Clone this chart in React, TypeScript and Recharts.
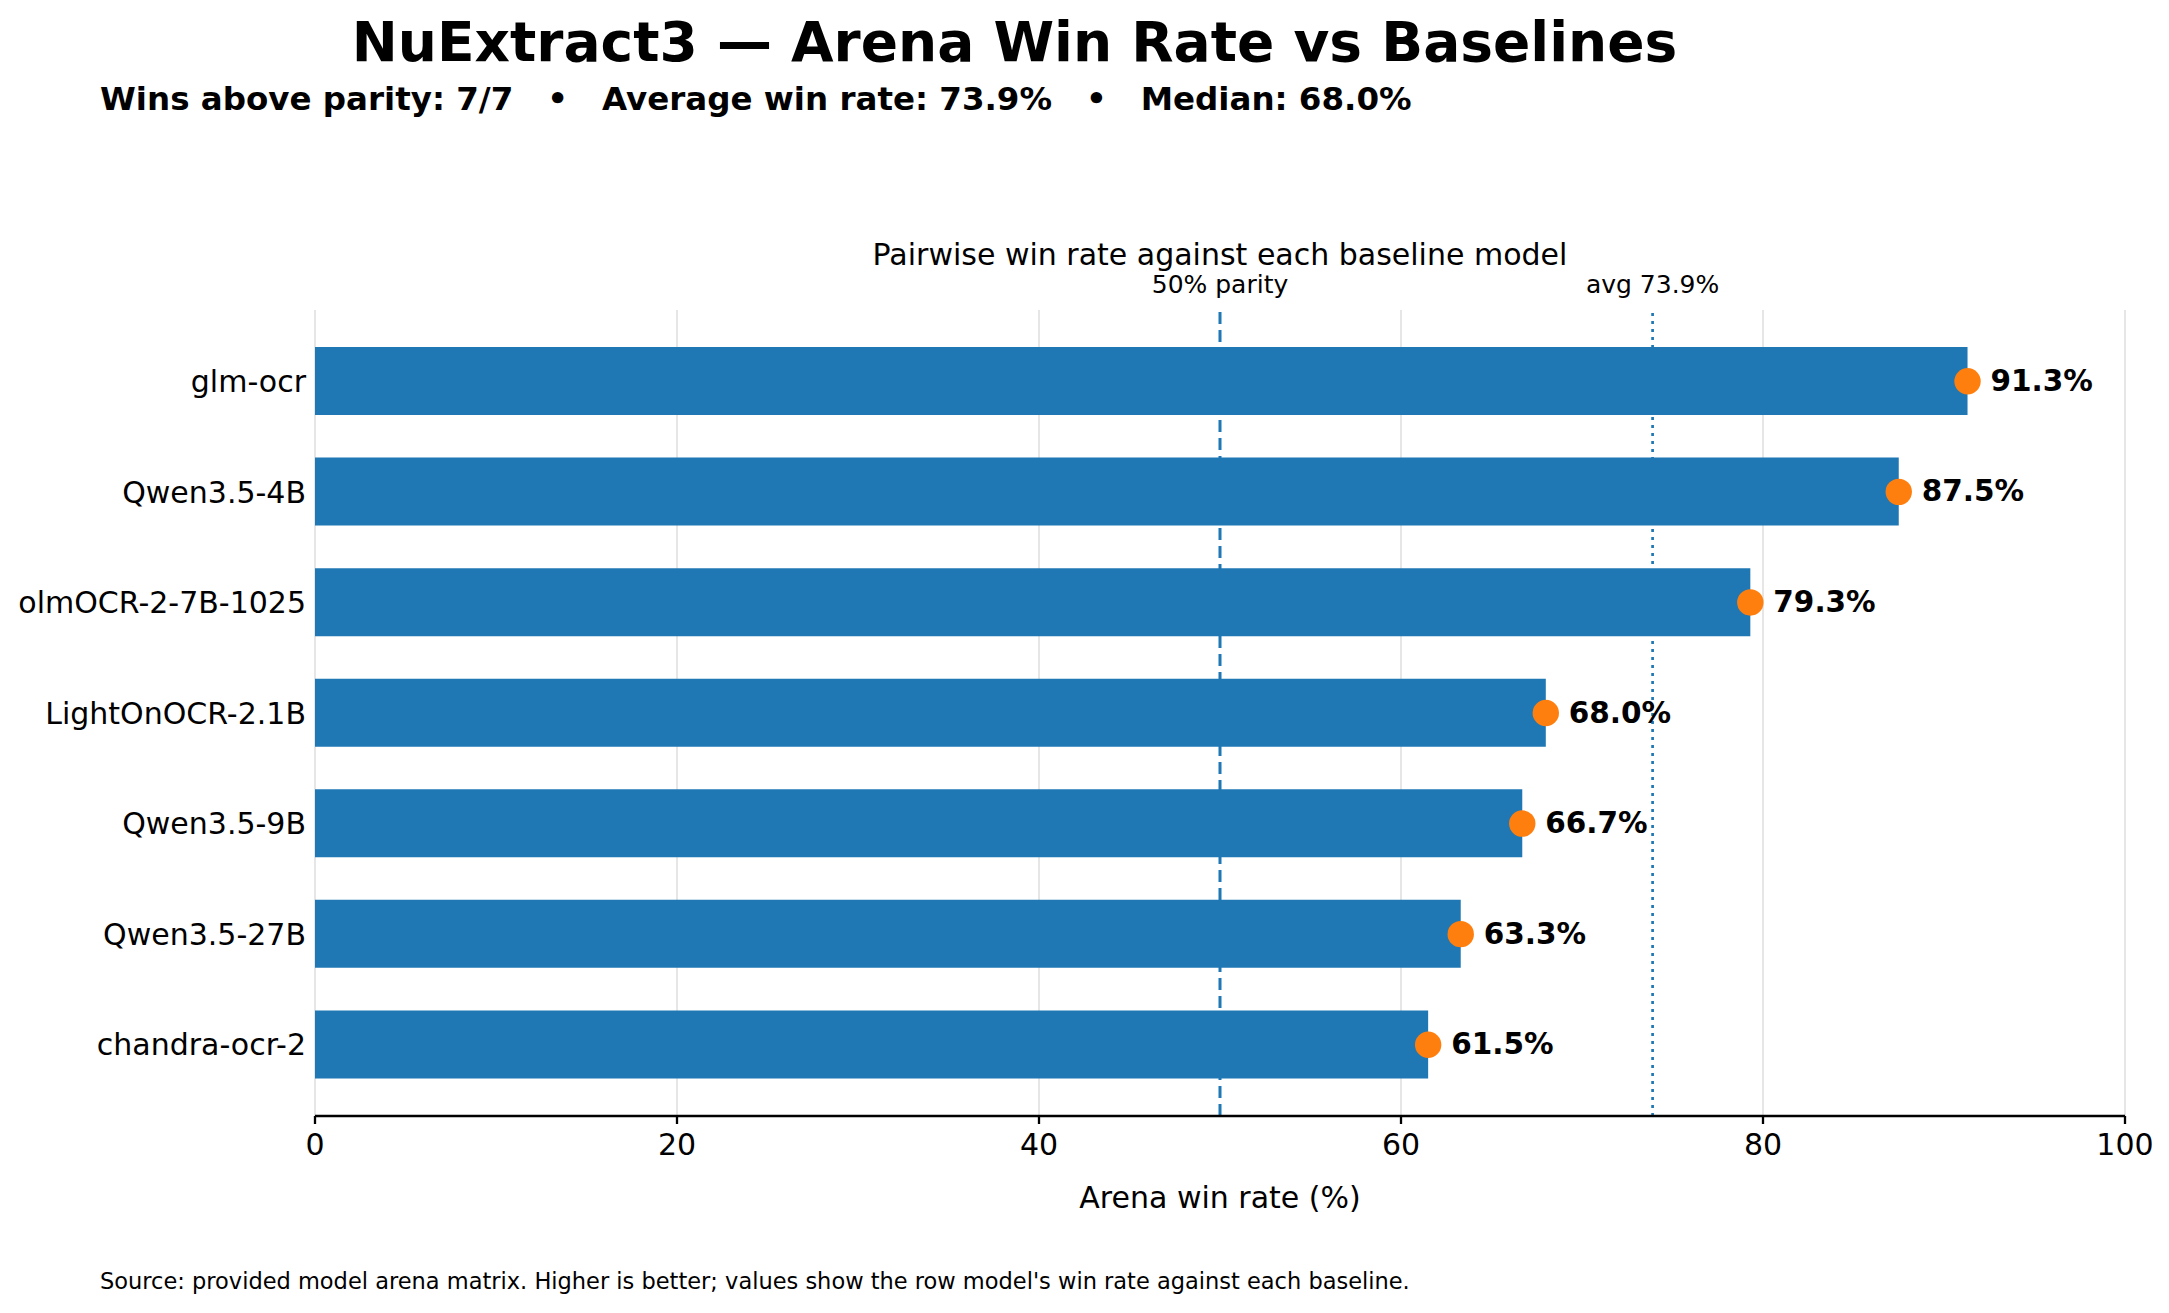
import React from 'react';
import {
  ComposedChart,
  Bar,
  Line,
  XAxis,
  YAxis,
  CartesianGrid,
  ReferenceLine,
  LabelList,
} from 'recharts';

// ---- data ----
const models = [
  'glm-ocr',
  'Qwen3.5-4B',
  'olmOCR-2-7B-1025',
  'LightOnOCR-2.1B',
  'Qwen3.5-9B',
  'Qwen3.5-27B',
  'chandra-ocr-2',
];
const winRates = [91.3, 87.5, 79.3, 68.0, 66.7, 63.3, 61.5];
const xTicks = [0, 20, 40, 60, 80, 100];
const parityRate = 50;
const averageRate = 73.9;
const medianRate = 68.0;
const winsAbove = 7;
const totalBaselines = 7;

const data = models.map((m, i) => ({ model: m, rate: winRates[i] }));

const W = 2169;
const H = 1313;
const FONT = "'DejaVu Sans', 'Liberation Sans', sans-serif";
const BLUE = '#1f77b4';
const ORANGE = '#ff7f0e';

const ValueLabel = (props: any) => {
  const vb = props.viewBox || {};
  const x = props.x ?? vb.x;
  const y = props.y ?? vb.y;
  const v = props.value;
  return (
    <text
      x={x + 23}
      y={y + 9.5}
      fontFamily={FONT}
      fontSize={29.5}
      fontWeight="bold"
      fill="#000"
    >
      {`${Number(v).toFixed(1)}%`}
    </text>
  );
};

const RefLabel = (props: any) => {
  const vb = props.viewBox || {};
  return (
    <text
      x={vb.x}
      y={vb.y - 17}
      textAnchor="middle"
      fontFamily={FONT}
      fontSize={25}
      fill="#000"
    >
      {props.text}
    </text>
  );
};

const OrangeDot = (p: any) => (
  <circle key={`dot-${p.index}`} cx={p.cx} cy={p.cy} r={13.2} fill={ORANGE} />
);

export default function App() {
  return (
    <div style={{ position: 'absolute', left: 0, top: 0, width: W, height: H, background: '#fff' }}>
      <ComposedChart
        layout="vertical"
        width={W}
        height={H}
        data={data}
        margin={{ top: 310, right: 44, left: 0, bottom: 157 }}
      >
        <CartesianGrid horizontal={false} stroke="#e6e6e6" strokeWidth={2} />
        <XAxis
          type="number"
          domain={[0, 100]}
          ticks={xTicks}
          interval={0}
          height={40}
          tickSize={8}
          tickMargin={10}
          axisLine={{ stroke: '#000', strokeWidth: 2.3 }}
          tickLine={{ stroke: '#000', strokeWidth: 2.3 }}
          tick={{ fontSize: 30, fill: '#000', fontFamily: FONT }}
        />
        <YAxis
          type="category"
          dataKey="model"
          width={315}
          interval={0}
          tickSize={0}
          tickMargin={9}
          axisLine={false}
          tickLine={false}
          padding={{ top: 16, bottom: 16 }}
          tick={{ fontSize: 30, fill: '#000', fontFamily: FONT }}
        />
        <ReferenceLine
          x={parityRate}
          stroke={BLUE}
          strokeWidth={3}
          strokeDasharray="12 6"
          zIndex={-10}
          label={<RefLabel text="50% parity" />}
        />
        <ReferenceLine
          x={averageRate}
          stroke={BLUE}
          strokeWidth={2.7}
          strokeDasharray="3 5"
          zIndex={-10}
          label={<RefLabel text={`avg ${averageRate.toFixed(1)}%`} />}
        />
        <Bar dataKey="rate" fill={BLUE} barSize={68} isAnimationActive={false} />
        <Line
          dataKey="rate"
          stroke="none"
          strokeWidth={0}
          dot={OrangeDot}
          activeDot={false}
          isAnimationActive={false}
        >
          <LabelList dataKey="rate" content={<ValueLabel />} />
        </Line>
      </ComposedChart>
      <svg
        width={W}
        height={H}
        style={{ position: 'absolute', left: 0, top: 0, pointerEvents: 'none' }}
      >
        <text x={1014.5} y={61} textAnchor="middle" fontFamily={FONT} fontSize={55} fontWeight="bold" fill="#000">
          NuExtract3 — Arena Win Rate vs Baselines
        </text>
        <text x={100} y={110} fontFamily={FONT} fontSize={32.5} fontWeight="bold" fill="#000" style={{ whiteSpace: 'pre' }}>
          {`Wins above parity: ${winsAbove}/${totalBaselines}   •   Average win rate: ${averageRate.toFixed(1)}%   •   Median: ${medianRate.toFixed(1)}%`}
        </text>
        <text x={1220} y={265} textAnchor="middle" fontFamily={FONT} fontSize={30} fill="#000">
          Pairwise win rate against each baseline model
        </text>
        <text x={1220} y={1208} textAnchor="middle" fontFamily={FONT} fontSize={30} fill="#000">
          Arena win rate (%)
        </text>
        <text x={100} y={1289} fontFamily={FONT} fontSize={22.5} fill="#000">
          Source: provided model arena matrix. Higher is better; values show the row model's win rate against each baseline.
        </text>
      </svg>
    </div>
  );
}
